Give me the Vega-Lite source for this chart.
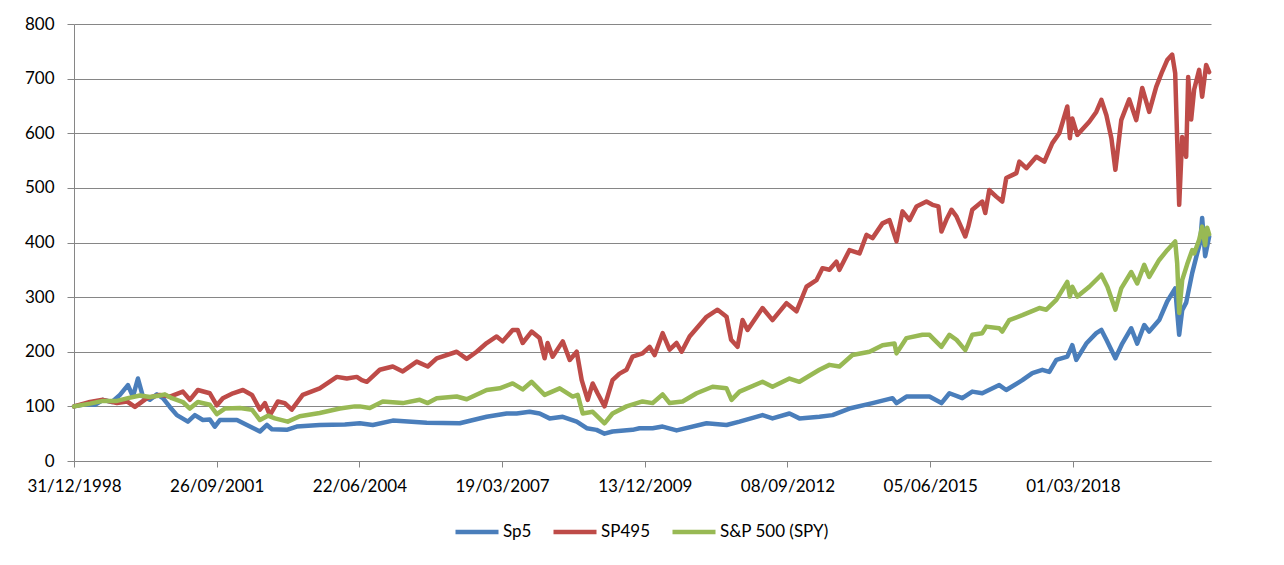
{
  "$schema": "https://vega.github.io/schema/vega-lite/v6.json",
  "width": 1137,
  "height": 437,
  "autosize": {"type": "none"},
  "padding": {"left": 74, "top": 24, "right": 73, "bottom": 104},
  "background": "white",
  "config": {"font": "Lato", "view": {"stroke": null}},
  "datasets": {
    "sp5": [
      {"d":"1998-12-31","v":100},{"d":"1999-03-18","v":104},{"d":"1999-05-27","v":103},{"d":"1999-07-22","v":112},
      {"d":"1999-09-23","v":108},{"d":"1999-11-18","v":121},{"d":"2000-01-13","v":139},{"d":"2000-02-17","v":118},
      {"d":"2000-03-23","v":151},{"d":"2000-04-27","v":118},{"d":"2000-06-15","v":112},{"d":"2000-08-03","v":122},
      {"d":"2000-09-14","v":115},{"d":"2000-11-02","v":99},{"d":"2000-12-21","v":84},{"d":"2001-03-08","v":72},
      {"d":"2001-04-26","v":84},{"d":"2001-06-21","v":75},{"d":"2001-08-09","v":76},{"d":"2001-09-13","v":63},
      {"d":"2001-10-18","v":75},{"d":"2002-02-15","v":75},{"d":"2002-04-26","v":66},{"d":"2002-07-26","v":54},
      {"d":"2002-09-13","v":66},{"d":"2002-10-18","v":58},{"d":"2003-01-30","v":57},{"d":"2003-04-10","v":63},
      {"d":"2003-09-18","v":66},{"d":"2004-03-12","v":67},{"d":"2004-06-25","v":69},{"d":"2004-09-24","v":66},
      {"d":"2005-02-11","v":74},{"d":"2005-10-07","v":70},{"d":"2006-05-26","v":69},{"d":"2006-12-01","v":81},
      {"d":"2007-04-20","v":87},{"d":"2007-06-29","v":87},{"d":"2007-09-28","v":90},{"d":"2007-12-07","v":87},
      {"d":"2008-02-15","v":78},{"d":"2008-05-17","v":81},{"d":"2008-08-23","v":72},{"d":"2008-11-01","v":60},
      {"d":"2009-01-09","v":57},{"d":"2009-03-06","v":50},{"d":"2009-05-01","v":54},{"d":"2009-09-18","v":57},
      {"d":"2009-11-06","v":60},{"d":"2010-02-06","v":60},{"d":"2010-04-17","v":63},{"d":"2010-07-24","v":56},
      {"d":"2011-02-19","v":69},{"d":"2011-07-09","v":66},{"d":"2011-10-08","v":72},{"d":"2012-03-17","v":84},
      {"d":"2012-05-26","v":78},{"d":"2012-09-22","v":87},{"d":"2012-12-01","v":78},{"d":"2013-04-20","v":81},
      {"d":"2013-07-20","v":84},{"d":"2013-11-16","v":96},{"d":"2014-04-27","v":106},{"d":"2014-09-14","v":115},
      {"d":"2014-10-12","v":106},{"d":"2014-12-21","v":118},{"d":"2015-04-12","v":118},{"d":"2015-05-31","v":118},
      {"d":"2015-08-23","v":106},{"d":"2015-10-18","v":124},{"d":"2016-01-16","v":115},{"d":"2016-03-26","v":127},
      {"d":"2016-06-04","v":124},{"d":"2016-10-01","v":139},{"d":"2016-11-19","v":130},{"d":"2017-03-12","v":148},
      {"d":"2017-05-21","v":161},{"d":"2017-07-30","v":167},{"d":"2017-09-17","v":163},{"d":"2017-11-05","v":185},
      {"d":"2018-01-21","v":191},{"d":"2018-02-25","v":212},{"d":"2018-03-25","v":185},{"d":"2018-06-03","v":215},
      {"d":"2018-08-12","v":234},{"d":"2018-09-17","v":240},{"d":"2018-10-22","v":222},{"d":"2018-12-24","v":188},
      {"d":"2019-02-10","v":215},{"d":"2019-04-14","v":243},{"d":"2019-05-26","v":215},{"d":"2019-07-14","v":249},
      {"d":"2019-08-18","v":237},{"d":"2019-10-27","v":258},{"d":"2019-12-22","v":292},{"d":"2020-02-16","v":316},
      {"d":"2020-03-15","v":231},{"d":"2020-04-05","v":276},{"d":"2020-05-03","v":290},{"d":"2020-06-14","v":344},
      {"d":"2020-07-19","v":380},{"d":"2020-08-09","v":400},{"d":"2020-08-23","v":445},{"d":"2020-09-13","v":375},
      {"d":"2020-10-11","v":411}
    ],
    "sp495": [
      {"d":"1998-12-31","v":100},{"d":"1999-04-22","v":108},{"d":"1999-07-22","v":112},{"d":"1999-10-28","v":106},
      {"d":"2000-01-06","v":109},{"d":"2000-03-02","v":99},{"d":"2000-05-25","v":115},{"d":"2000-08-24","v":121},
      {"d":"2000-11-02","v":118},{"d":"2001-02-01","v":127},{"d":"2001-03-22","v":112},{"d":"2001-05-17","v":130},
      {"d":"2001-08-09","v":124},{"d":"2001-09-27","v":102},{"d":"2001-11-08","v":115},{"d":"2002-01-18","v":124},
      {"d":"2002-03-29","v":130},{"d":"2002-05-31","v":121},{"d":"2002-07-26","v":94},{"d":"2002-08-30","v":106},
      {"d":"2002-10-04","v":84},{"d":"2002-11-29","v":109},{"d":"2003-01-16","v":106},{"d":"2003-03-06","v":94},
      {"d":"2003-05-22","v":121},{"d":"2003-09-18","v":133},{"d":"2004-01-16","v":154},{"d":"2004-03-26","v":151},
      {"d":"2004-06-04","v":154},{"d":"2004-07-09","v":148},{"d":"2004-08-13","v":145},{"d":"2004-11-12","v":167},
      {"d":"2005-02-11","v":173},{"d":"2005-04-22","v":164},{"d":"2005-07-29","v":182},{"d":"2005-10-14","v":173},
      {"d":"2005-12-16","v":188},{"d":"2006-05-05","v":200},{"d":"2006-07-14","v":187},{"d":"2006-09-22","v":200},
      {"d":"2006-12-01","v":216},{"d":"2007-02-09","v":228},{"d":"2007-03-23","v":219},{"d":"2007-06-01","v":240},
      {"d":"2007-07-06","v":240},{"d":"2007-08-10","v":216},{"d":"2007-10-12","v":237},{"d":"2007-12-07","v":225},
      {"d":"2008-01-11","v":188},{"d":"2008-02-01","v":216},{"d":"2008-03-07","v":191},{"d":"2008-05-17","v":219},
      {"d":"2008-07-05","v":185},{"d":"2008-08-23","v":200},{"d":"2008-09-27","v":148},{"d":"2008-11-08","v":112},
      {"d":"2008-12-13","v":142},{"d":"2009-01-16","v":124},{"d":"2009-03-06","v":100},{"d":"2009-05-01","v":148},
      {"d":"2009-06-19","v":160},{"d":"2009-08-07","v":167},{"d":"2009-09-18","v":191},{"d":"2009-11-27","v":197},
      {"d":"2010-01-16","v":209},{"d":"2010-02-20","v":194},{"d":"2010-04-17","v":234},{"d":"2010-06-05","v":204},
      {"d":"2010-07-24","v":216},{"d":"2010-08-28","v":200},{"d":"2010-10-23","v":228},{"d":"2011-02-19","v":264},
      {"d":"2011-05-07","v":277},{"d":"2011-07-09","v":264},{"d":"2011-08-10","v":222},{"d":"2011-09-24","v":209},
      {"d":"2011-10-29","v":258},{"d":"2011-12-03","v":240},{"d":"2012-03-17","v":280},{"d":"2012-05-26","v":258},
      {"d":"2012-09-01","v":289},{"d":"2012-11-10","v":274},{"d":"2013-01-19","v":319},{"d":"2013-03-30","v":331},
      {"d":"2013-05-11","v":353},{"d":"2013-06-29","v":350},{"d":"2013-08-17","v":365},{"d":"2013-09-07","v":350},
      {"d":"2013-11-16","v":386},{"d":"2014-01-26","v":380},{"d":"2014-03-16","v":414},{"d":"2014-04-27","v":408},
      {"d":"2014-07-06","v":435},{"d":"2014-08-24","v":441},{"d":"2014-10-12","v":402},{"d":"2014-11-23","v":457},
      {"d":"2015-01-11","v":441},{"d":"2015-03-01","v":466},{"d":"2015-05-10","v":475},{"d":"2015-06-21","v":469},
      {"d":"2015-08-02","v":466},{"d":"2015-08-23","v":420},{"d":"2015-09-27","v":442},{"d":"2015-11-01","v":460},
      {"d":"2015-12-06","v":448},{"d":"2016-02-06","v":411},{"d":"2016-02-27","v":429},{"d":"2016-03-26","v":460},
      {"d":"2016-06-04","v":475},{"d":"2016-06-25","v":454},{"d":"2016-07-23","v":496},{"d":"2016-09-10","v":484},
      {"d":"2016-10-22","v":475},{"d":"2016-11-19","v":518},{"d":"2017-01-29","v":527},{"d":"2017-02-19","v":548},
      {"d":"2017-04-09","v":536},{"d":"2017-06-18","v":557},{"d":"2017-08-13","v":548},{"d":"2017-10-08","v":582},
      {"d":"2017-11-26","v":600},{"d":"2018-01-21","v":649},{"d":"2018-02-08","v":591},{"d":"2018-02-25","v":627},
      {"d":"2018-04-01","v":597},{"d":"2018-06-24","v":621},{"d":"2018-08-12","v":639},{"d":"2018-09-17","v":661},
      {"d":"2018-10-22","v":633},{"d":"2018-11-26","v":591},{"d":"2018-12-24","v":533},{"d":"2019-02-03","v":624},
      {"d":"2019-03-31","v":662},{"d":"2019-05-19","v":624},{"d":"2019-06-30","v":683},{"d":"2019-08-18","v":639},
      {"d":"2019-10-06","v":685},{"d":"2019-11-17","v":713},{"d":"2019-12-22","v":734},{"d":"2020-01-26","v":744},
      {"d":"2020-02-16","v":710},{"d":"2020-03-01","v":588},{"d":"2020-03-15","v":469},{"d":"2020-04-05","v":593},
      {"d":"2020-05-03","v":557},{"d":"2020-05-17","v":703},{"d":"2020-06-07","v":625},{"d":"2020-06-28","v":680},
      {"d":"2020-08-02","v":716},{"d":"2020-08-23","v":667},{"d":"2020-09-20","v":725},{"d":"2020-10-11","v":712}
    ],
    "spy": [
      {"d":"1998-12-31","v":100},{"d":"1999-04-22","v":105},{"d":"1999-07-22","v":110},{"d":"1999-10-28","v":110},
      {"d":"2000-01-13","v":115},{"d":"2000-04-06","v":120},{"d":"2000-06-15","v":117},{"d":"2000-08-24","v":120},
      {"d":"2000-09-28","v":122},{"d":"2000-11-16","v":115},{"d":"2001-02-01","v":108},{"d":"2001-03-22","v":96},
      {"d":"2001-05-17","v":108},{"d":"2001-08-09","v":103},{"d":"2001-09-27","v":86},{"d":"2001-11-22","v":96},
      {"d":"2002-03-08","v":97},{"d":"2002-05-31","v":94},{"d":"2002-07-26","v":75},{"d":"2002-09-20","v":83},
      {"d":"2002-11-08","v":78},{"d":"2003-02-06","v":72},{"d":"2003-05-01","v":82},{"d":"2003-09-18","v":88},
      {"d":"2004-02-06","v":96},{"d":"2004-05-21","v":100},{"d":"2004-06-25","v":100},{"d":"2004-09-03","v":97},
      {"d":"2004-12-03","v":109},{"d":"2005-04-22","v":106},{"d":"2005-08-19","v":112},{"d":"2005-10-14","v":106},
      {"d":"2005-12-16","v":115},{"d":"2006-05-05","v":118},{"d":"2006-07-14","v":113},{"d":"2006-12-01","v":130},
      {"d":"2007-03-02","v":133},{"d":"2007-06-01","v":142},{"d":"2007-08-10","v":131},{"d":"2007-10-12","v":145},
      {"d":"2008-01-11","v":121},{"d":"2008-04-26","v":133},{"d":"2008-07-26","v":118},{"d":"2008-08-30","v":121},
      {"d":"2008-10-04","v":87},{"d":"2008-12-13","v":90},{"d":"2009-03-06","v":69},{"d":"2009-05-01","v":87},
      {"d":"2009-08-07","v":100},{"d":"2009-11-27","v":109},{"d":"2010-02-06","v":106},{"d":"2010-04-17","v":122},
      {"d":"2010-06-05","v":106},{"d":"2010-09-04","v":109},{"d":"2010-12-11","v":124},{"d":"2011-04-02","v":136},
      {"d":"2011-07-09","v":133},{"d":"2011-08-13","v":112},{"d":"2011-10-08","v":127},{"d":"2012-03-17","v":145},
      {"d":"2012-05-26","v":136},{"d":"2012-09-22","v":151},{"d":"2012-12-01","v":145},{"d":"2013-04-20","v":167},
      {"d":"2013-06-29","v":176},{"d":"2013-09-07","v":173},{"d":"2013-12-07","v":194},{"d":"2014-04-06","v":200},
      {"d":"2014-07-06","v":212},{"d":"2014-09-28","v":215},{"d":"2014-10-12","v":197},{"d":"2014-12-21","v":225},
      {"d":"2015-04-12","v":231},{"d":"2015-05-31","v":231},{"d":"2015-08-23","v":209},{"d":"2015-10-18","v":231},
      {"d":"2015-12-06","v":222},{"d":"2016-02-06","v":203},{"d":"2016-03-26","v":231},{"d":"2016-06-04","v":234},
      {"d":"2016-07-02","v":246},{"d":"2016-10-01","v":243},{"d":"2016-10-22","v":237},{"d":"2016-12-10","v":258},
      {"d":"2017-03-12","v":267},{"d":"2017-07-09","v":280},{"d":"2017-08-27","v":277},{"d":"2017-11-05","v":295},
      {"d":"2018-01-21","v":328},{"d":"2018-02-08","v":301},{"d":"2018-02-25","v":319},{"d":"2018-04-01","v":301},
      {"d":"2018-06-24","v":319},{"d":"2018-09-17","v":341},{"d":"2018-10-29","v":319},{"d":"2018-12-24","v":277},
      {"d":"2019-02-03","v":316},{"d":"2019-04-14","v":346},{"d":"2019-05-26","v":325},{"d":"2019-07-14","v":359},
      {"d":"2019-08-18","v":337},{"d":"2019-10-27","v":368},{"d":"2019-12-22","v":386},{"d":"2020-02-16","v":402},
      {"d":"2020-03-01","v":362},{"d":"2020-03-15","v":271},{"d":"2020-04-05","v":331},{"d":"2020-05-10","v":360},
      {"d":"2020-06-14","v":386},{"d":"2020-06-28","v":380},{"d":"2020-08-02","v":405},{"d":"2020-08-23","v":429},
      {"d":"2020-09-13","v":395},{"d":"2020-09-27","v":427},{"d":"2020-10-11","v":415}
    ]
  },
  "encoding": {
    "x": {
      "field": "d",
      "type": "temporal",
      "scale": {
        "type": "utc",
        "domain": [
          {"year": 1998, "month": 12, "date": 31, "utc": true},
          {"year": 2020, "month": 10, "date": 24, "utc": true}
        ]
      },
      "axis": {
        "title": null,
        "grid": false,
        "format": "%d/%m/%Y",
        "values": [
          {"year": 1998, "month": 12, "date": 31, "utc": true},
          {"year": 2001, "month": 9, "date": 26, "utc": true},
          {"year": 2004, "month": 6, "date": 22, "utc": true},
          {"year": 2007, "month": 3, "date": 19, "utc": true},
          {"year": 2009, "month": 12, "date": 13, "utc": true},
          {"year": 2012, "month": 9, "date": 8, "utc": true},
          {"year": 2015, "month": 6, "date": 5, "utc": true},
          {"year": 2018, "month": 3, "date": 1, "utc": true}
        ],
        "domainColor": "#868686",
        "tickColor": "#868686",
        "tickSize": 6,
        "labelPadding": 11,
        "labelFontSize": 17,
        "labelColor": "#000000",
        "labelFlush": false,
        "labelOverlap": false
      }
    },
    "y": {
      "field": "v",
      "type": "quantitative",
      "scale": {"domain": [0, 800], "nice": false},
      "axis": {
        "title": null,
        "values": [0, 100, 200, 300, 400, 500, 600, 700, 800],
        "gridColor": "#868686",
        "domainColor": "#868686",
        "tickColor": "#868686",
        "tickSize": 7,
        "labelPadding": 13,
        "labelFontSize": 17,
        "labelColor": "#000000"
      }
    }
  },
  "layer": [
    {
      "data": {"name": "sp5"},
      "mark": {"type": "line", "strokeWidth": 4.5, "strokeJoin": "round", "strokeCap": "round"},
      "encoding": {
        "color": {
          "datum": "Sp5",
          "type": "nominal",
          "scale": {"domain": ["Sp5", "SP495", "S&P 500 (SPY)"], "range": ["#4A7EBB", "#BE4B48", "#98B954"]},
          "legend": {
            "title": null,
            "orient": "none",
            "legendX": 379,
            "legendY": 484,
            "direction": "horizontal",
            "symbolType": "stroke",
            "symbolSize": 1849,
            "symbolStrokeWidth": 4.5,
            "labelFontSize": 17,
            "labelColor": "#000000",
            "labelOffset": 2,
            "columnPadding": 12,
            "padding": 0
          }
        }
      }
    },
    {
      "data": {"name": "sp495"},
      "mark": {"type": "line", "strokeWidth": 4.5, "strokeJoin": "round", "strokeCap": "round"},
      "encoding": {"color": {"datum": "SP495", "type": "nominal"}}
    },
    {
      "data": {"name": "spy"},
      "mark": {"type": "line", "strokeWidth": 4.5, "strokeJoin": "round", "strokeCap": "round"},
      "encoding": {"color": {"datum": "S&P 500 (SPY)", "type": "nominal"}}
    }
  ]
}
